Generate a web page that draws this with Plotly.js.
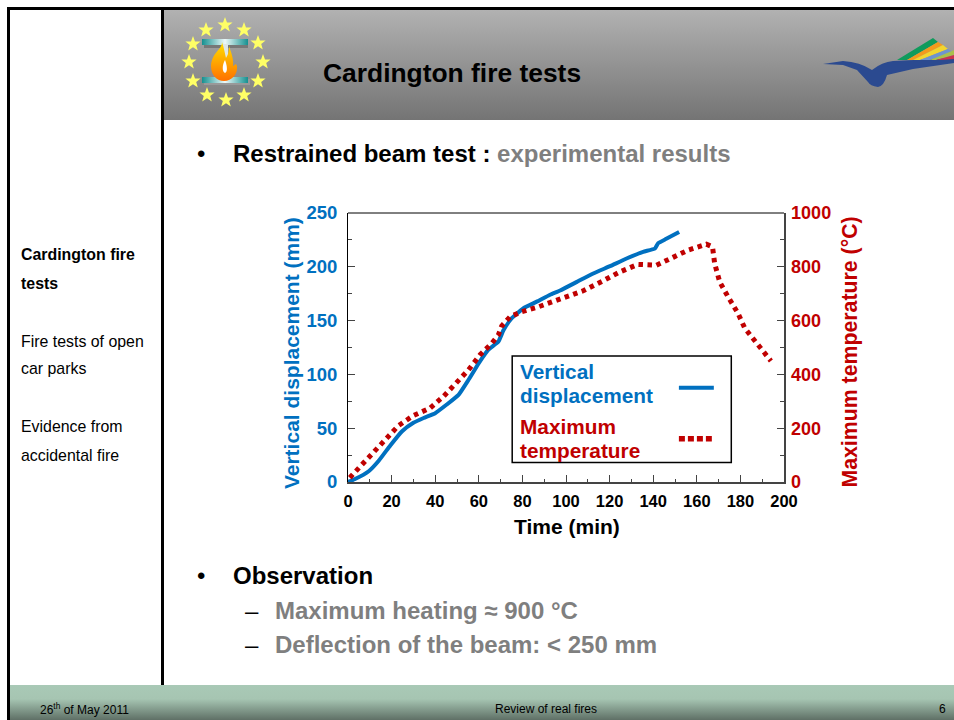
<!DOCTYPE html>
<html><head><meta charset="utf-8">
<script src="https://cdn.plot.ly/plotly-3.0.1.min.js"></script>
<style>
html,body{margin:0;padding:0;background:#fff;width:954px;height:720px;overflow:hidden;font-family:"Liberation Sans",Arial,sans-serif}
#slide,#chart{position:absolute;left:0;top:0;width:954px;height:720px}
#chart{z-index:2}
.b{position:absolute;background:#000}
</style></head><body>
<div id="slide">
<div style="position:absolute;left:163px;top:9px;width:791px;height:111px;background:linear-gradient(#b2b2b2,#747474)"></div>
<div style="position:absolute;left:9px;top:685px;width:945px;height:35px;background:linear-gradient(#a9c9b6 0%,#a6c5b2 40%,#5f7066 100%)"></div>
<div class="b" style="left:7px;top:7px;width:947px;height:2.5px"></div>
<div class="b" style="left:7px;top:7px;width:2.5px;height:713px"></div>
<div class="b" style="left:161px;top:7px;width:2.5px;height:678px"></div>
<svg width="954" height="720" style="position:absolute;left:0;top:0">
<defs>
<polygon id="st" points="0,-8 2,-2.6 7.6,-2.5 3.2,1 4.8,6.5 0,3.3 -4.8,6.5 -3.2,1 -7.6,-2.5 -2,-2.6" fill="#ffff66"/>
<linearGradient id="beam"><stop offset="0" stop-color="#159090"/><stop offset=".5" stop-color="#eefafa"/><stop offset="1" stop-color="#159090"/></linearGradient>
<linearGradient id="fl" x1="0" y1="0" x2="0" y2="1"><stop offset="0" stop-color="#ffe000"/><stop offset="1" stop-color="#ff7000"/></linearGradient>
</defs>
<use href="#st" x="225" y="25"/><use href="#st" x="244" y="30"/><use href="#st" x="258" y="43"/><use href="#st" x="263" y="62"/>
<use href="#st" x="258" y="81"/><use href="#st" x="244" y="95"/><use href="#st" x="226" y="100"/><use href="#st" x="207" y="95"/>
<use href="#st" x="193" y="81"/><use href="#st" x="189" y="62"/><use href="#st" x="193" y="44"/><use href="#st" x="206" y="30"/>
<rect x="204" y="42" width="44" height="6" fill="#777"/><rect x="204" y="79" width="46" height="6" fill="#999"/>
<rect x="202" y="39" width="46" height="6" fill="url(#beam)"/><rect x="202" y="77" width="46" height="6" fill="url(#beam)"/>
<rect x="222" y="44" width="6" height="34" fill="#dfe8e8"/>
<path d="M222,42 C222,50 212,52 211,66 C211,75 217,81 224,81 C232,81 238,74 237,66 C236,62 234,66 233,66 C234,58 230,50 229,46 C229,54 227,56 226,58 C225,54 224,48 222,42Z" fill="url(#fl)"/>
<path d="M225,60 C222,65 222,72 225,73 C228,72 227,65 225,60Z" fill="#fff"/>
<path d="M823,64 L843,61 Q860,62 872,70 Q882,62 893,61 L954,58 L954,63 L913,69 L887,75 Q884,86 878,87 Q870,86 868,82 L857,70 L843,65 Z" fill="#2b4a90"/>
<path d="M897,60 L933,38 L938,42 L907,60Z" fill="#0f9b5c"/>
<path d="M907,60 L938,42 L943,45 L913,60Z" fill="#f39a1c"/>
<path d="M913,60 L943,45 L948,49 L920,60Z" fill="#f2d52e"/>
<path d="M920,60 L948,49 L952,52 L930,60Z" fill="#6e93cf"/>
<path d="M930,60 L952,51 L954,50 L954,55 L936,60Z" fill="#a9c04c"/>
<path d="M936,60 L954,55 L954,59 L940,60Z" fill="#c9334f"/>
</svg>
</div>
<div id="chart"></div>
<script>
// Data
const timeDisplacement = [0,3,9.5,14,19.4,24.7,30,34.7,40,45.3,50.7,55.3,60,64.4,69,71.3,75,80.5,86.6,92.7,97.3,105,112.5,120.2,127.8,135.4,140.8,142.3,146,151.9];
const displacement = [0,2.5,10,19.5,34,47,55,59.5,64,72,81,95,110.5,123,130.5,141,152,161.5,167.6,174,178,186,193.8,200.6,207.7,213.9,217,222,226,232.4];
const timeTemperature = [0.8,6.4,11.8,17.9,23.2,30,37.7,43.8,49.2,55.3,60.6,66,69,70.5,74.4,79.7,86.6,94.2,97.3,107.9,117,124.7,133,137.2,141.5,149.1,156,164.4,167.2,168.2,170.5,174.3,178.9,182,187.3,194];
const temperature = [16,65,115,168,210,247,275,318,365,417,473,516,547,580,615,633,649,670,683,711,748,781,809,809,806,835,862,884,874,812,744,689,627,572,516,450];
const xTicks = [0,20,40,60,80,100,120,140,160,180,200];
const leftTicks = [0,50,100,150,200,250];
const rightTicks = [0,200,400,600,800,1000];

const BLUE='#0070C0', RED='#C00000', GREY='#7F7F7F';
const FONT='"Liberation Sans", Arial, sans-serif';
const W=954,H=720,L=347.5,R=784.3,T=212.5,B=482.5;
const fx=p=>(p-L)/(R-L), fy=p=>(B-p)/(B-T);
function txt(px,py,text,size,color,bold,anchor,extra){
  const left=!anchor||anchor==='left';
  return Object.assign({xref:'paper',yref:'paper',x:fx(left?px-2:px),y:fy(py),text:bold?'<b>'+text+'</b>':text,showarrow:false,
    xanchor:anchor||'left',yanchor:'middle',borderpad:0,font:{family:FONT,size:size,color:color}},extra||{});
}
const g=s=>'<span style="color:'+GREY+'">'+s+'</span>';
const annotations=[
 txt(323,72,'Cardington fire tests',26.4,'#000',true),
 txt(197,153,'•',24,'#000',false),
 txt(233,153,'Restrained beam test : '+g('experimental results'),24,'#000',true),
 txt(21,254,'Cardington fire',15.9,'#000',true),
 txt(21,283,'tests',15.9,'#000',true),
 txt(21,341,'Fire tests of open',15.9,'#000',false),
 txt(21,369,'car parks',15.9,'#000',false),
 txt(21,427,'Evidence from',15.9,'#000',false),
 txt(21,456,'accidental fire',15.9,'#000',false),
 txt(197,576,'•',24,'#000',false),
 txt(233,576,'Observation',24,'#000',true),
 txt(245,611,'–',24,'#000',false),
 txt(275,611,'Maximum heating ≈ 900 °C',24,GREY,true),
 txt(245,645.5,'–',24,'#000',false),
 txt(275,645.5,'Deflection of the beam: &lt; 250 mm',24,GREY,true),
 txt(40,710,'26<sup>th</sup> of May 2011',12,'#000',false),
 txt(546,710,'Review of real fires',12,'#000',false,'center'),
 txt(943,710,'6',12,'#000',false,'center'),
 txt(521,372,'Vertical',20.8,BLUE,true),
 txt(521,396,'displacement',20.8,BLUE,true),
 txt(521,427,'Maximum',20.8,RED,true),
 txt(521,451,'temperature',20.8,RED,true),
 txt(567,527,'Time (min)',21,'#000',true,'center'),
 txt(291,353.5,'Vertical displacement (mm)',21,BLUE,true,'center',{textangle:-90}),
 txt(850,352,'Maximum temperature (°C)',21.3,RED,true,'center',{textangle:-90}),
];
const shapes=[
 {type:'rect',xref:'paper',yref:'paper',x0:fx(512),x1:fx(731.5),y0:fy(463),y1:fy(356),line:{color:'#000',width:1.5},fillcolor:'#fff',layer:'above'},
 {type:'line',xref:'paper',yref:'paper',x0:fx(679),x1:fx(714),y0:fy(388),y1:fy(388),line:{color:BLUE,width:4},layer:'above'},
 {type:'line',xref:'paper',yref:'paper',x0:fx(679),x1:fx(712),y0:fy(439),y1:fy(439),line:{color:RED,width:5.5,dash:'6px,3px'},layer:'above'},
];
const traces=[
 {x:timeTemperature,y:temperature,yaxis:'y2',mode:'lines',name:'Maximum temperature',line:{color:RED,width:5,dash:'4.5px,4.5px'},cliponaxis:false},
 {x:timeDisplacement,y:displacement,mode:'lines',name:'Vertical displacement',line:{color:BLUE,width:4,shape:'spline',smoothing:0.4},cliponaxis:false},
];
const tf=(size,color)=>({family:FONT,size:size,color:color,weight:700});
const layout={
 width:W,height:H,autosize:false,showlegend:false,
 paper_bgcolor:'rgba(0,0,0,0)',plot_bgcolor:'rgba(0,0,0,0)',
 margin:{l:L,r:W-R,t:T,b:H-B,pad:0},
 xaxis:{range:[0,200],tickmode:'array',tickvals:xTicks,ticktext:xTicks.map(String),ticks:'inside',ticklen:7,tickwidth:1,tickcolor:'#444',ticklabelstandoff:4,
   tickfont:tf(16.5,'#000'),showgrid:false,zeroline:false,showline:true,linecolor:'#444',linewidth:1.5,mirror:false,
   minor:{dtick:10,ticks:'inside',ticklen:3,tickwidth:1,tickcolor:'#444',showgrid:false}},
 yaxis:{range:[0,250],tickmode:'array',tickvals:leftTicks,ticktext:leftTicks.map(String),ticks:'inside',ticklen:7,tickwidth:1,tickcolor:'#444',ticklabelstandoff:6,
   tickfont:tf(18.5,BLUE),showgrid:false,zeroline:false,showline:true,linecolor:'#000',linewidth:1,
   minor:{dtick:25,ticks:'inside',ticklen:4,tickwidth:1,tickcolor:'#444',showgrid:false}},
 yaxis2:{overlaying:'y',side:'right',range:[0,1000],tickmode:'array',tickvals:rightTicks,ticktext:rightTicks.map(String),ticks:'inside',ticklen:7,tickwidth:1,tickcolor:'#444',ticklabelstandoff:2,
   tickfont:tf(18,RED),showgrid:false,zeroline:false,showline:true,linecolor:'#444',linewidth:1.5,
   minor:{dtick:100,ticks:'inside',ticklen:4,tickwidth:1,tickcolor:'#444',showgrid:false}},
 annotations:annotations,shapes:shapes.concat([
  {type:'line',xref:'paper',yref:'paper',x0:0,x1:1,y0:1,y1:1,line:{color:'#000',width:1}}
 ])
};
Plotly.newPlot('chart',traces,layout,{displayModeBar:false,staticPlot:true});
</script>
</body></html>
